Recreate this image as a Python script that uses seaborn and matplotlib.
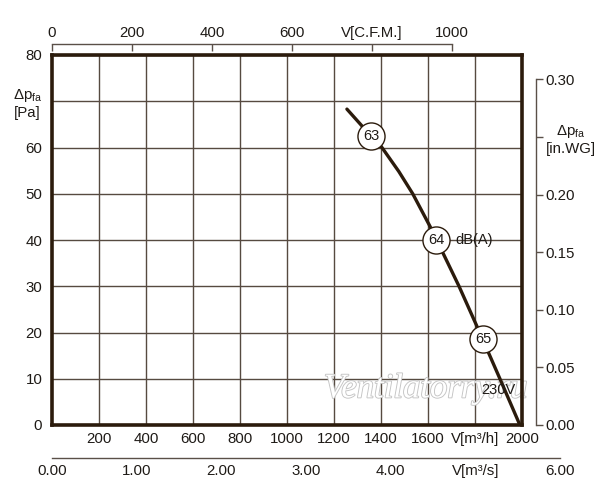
import matplotlib
matplotlib.use("Agg")
import matplotlib.pyplot as plt
import matplotlib.patheffects as pe
import seaborn as sns
import pandas as pd

# fan curve: air flow [m3/h] vs static pressure [Pa]
flow = [1255, 1357, 1404, 1476, 1535, 1609, 1637, 1732, 1820, 1906, 1991]
pressure = [68.3, 62.5, 60.0, 54.8, 50.0, 42.9, 40.0, 30.0, 20.0, 10.0, 0.0]

# noise level markers on the curve
noise_flow = [1357, 1635, 1835]
noise_pressure = [62.5, 40.0, 18.5]
noise_db = ["63", "64", "65"]

x_ticks = [200, 400, 600, 800, 1000, 1200, 1400, 1600, 1800, 2000]
x_labels = ["200", "400", "600", "800", "1000", "1200", "1400", "1600", "V[m³/h]", "2000"]
y_ticks = [0, 10, 20, 30, 40, 50, 60, 70, 80]
y_labels = ["0", "10", "20", "30", "40", "50", "60", "Δp$_{fa}$\n[Pa]", "80"]

cfm_ticks = [0, 200, 400, 600, 800, 1000]
cfm_labels = ["0", "200", "400", "600", "V[C.F.M.]", "1000"]
inwg_ticks = [0.0, 0.05, 0.10, 0.15, 0.20, 0.25, 0.30]
inwg_labels = ["0.00", "0.05", "0.10", "0.15", "0.20", "Δp$_{fa}$\n[in.WG]", "0.30"]
m3s_ticks = [0, 1, 2, 3, 4, 5, 6]
m3s_labels = ["0.00", "1.00", "2.00", "3.00", "4.00", "V[m³/s]", "6.00"]

PA_PER_INWG = 249.09

sns.set_style("white")
plt.rcParams["font.family"] = ["Liberation Sans", "DejaVu Sans"]
plt.rcParams["mathtext.fontset"] = "custom"
plt.rcParams["mathtext.rm"] = "Liberation Sans"
plt.rcParams["mathtext.default"] = "regular"

ink = "#1e1a16"
grid_col = "#564a40"
curve_col = "#2b1b0c"
axis_col = "#5a5048"
fs = 10.8

fig = plt.figure(figsize=(6, 5), dpi=100)
L, B, W, H = 52 / 600, 75 / 500, 470 / 600, 370 / 500
ax = fig.add_axes([L, B, W, H])

df = pd.DataFrame({"flow": flow, "pressure": pressure})
sns.lineplot(data=df, x="flow", y="pressure", sort=False, color=curve_col,
             linewidth=2.4, ax=ax, zorder=3)

marks = pd.DataFrame({"flow": noise_flow, "pressure": noise_pressure})
sns.scatterplot(data=marks, x="flow", y="pressure", s=380, color="white",
                edgecolor=curve_col, linewidth=1.0, ax=ax, zorder=4)
for fx, py, lab in zip(noise_flow, noise_pressure, noise_db):
    ax.text(fx, py, lab, ha="center", va="center", fontsize=10.5, color=ink, zorder=5)
ax.text(noise_flow[1] + 80, noise_pressure[1], "dB(A)", ha="left", va="center",
        fontsize=10.5, color=ink, zorder=5)
ax.text(1828, 7.5, "230V", ha="left", va="center", fontsize=10.5, color=ink, zorder=5)

ax.text(1590, 7.8, "Ventilatorry.ru", ha="center", va="center", fontsize=25,
        family="Liberation Serif", style="italic", color="white", zorder=2,
        path_effects=[pe.withStroke(linewidth=1.3, foreground="#c4c4c4")])

ax.set_xlim(0, 2000)
ax.set_ylim(0, 80)
ax.set_xticks(x_ticks)
ax.set_xticklabels(x_labels)
ax.set_yticks(y_ticks)
ax.set_yticklabels(y_labels)
ax.set_xlabel("")
ax.set_ylabel("")
ax.grid(True, color=grid_col, linewidth=1.0)
ax.tick_params(axis="both", length=0, labelsize=fs, colors=ink)
ax.tick_params(axis="x", pad=5)
ax.tick_params(axis="y", pad=7)
for s in ax.spines.values():
    s.set_color(curve_col)
    s.set_linewidth(2.6)
    s.set_zorder(6)
for lab in ax.get_yticklabels():
    lab.set_multialignment("center")

# top axis: C.F.M.
top = fig.add_axes([L, (500 - 44) / 500, 400 / 600, 0.0])
top.set_xlim(0, 1000)
top.set_yticks([])
for k, s in top.spines.items():
    s.set_visible(k == "top")
top.spines["top"].set_color(axis_col)
top.spines["top"].set_linewidth(1.0)
top.xaxis.tick_top()
top.set_xticks(cfm_ticks)
top.set_xticklabels(cfm_labels)
top.tick_params(axis="x", direction="in", length=5, width=1.0, color=axis_col,
                labelsize=fs, labelcolor=ink, pad=3)
top.patch.set_visible(False)

# right axis: in.WG
right = fig.add_axes([536 / 600, B, 0.0, H])
right.set_ylim(0, 80 / PA_PER_INWG)
right.set_xticks([])
for k, s in right.spines.items():
    s.set_visible(k == "right")
right.spines["right"].set_bounds(0, 0.30)
right.spines["right"].set_color(axis_col)
right.spines["right"].set_linewidth(1.0)
right.yaxis.tick_right()
right.set_yticks(inwg_ticks)
right.set_yticklabels(inwg_labels)
right.tick_params(axis="y", direction="out", length=5, width=1.0, color=axis_col,
                  labelsize=fs, labelcolor=ink, pad=2)
for lab in right.get_yticklabels():
    lab.set_multialignment("center")
right.patch.set_visible(False)

# lower axis: m3/s
low = fig.add_axes([L, (500 - 458) / 500, 508 / 600, 0.0])
low.set_xlim(0, 6)
low.set_yticks([])
for k, s in low.spines.items():
    s.set_visible(k == "bottom")
low.spines["bottom"].set_color(axis_col)
low.spines["bottom"].set_linewidth(1.0)
low.set_xticks(m3s_ticks)
low.set_xticklabels(m3s_labels)
low.tick_params(axis="x", direction="in", length=6, width=1.0, color=axis_col,
                labelsize=fs, labelcolor=ink, pad=4)
low.patch.set_visible(False)

fig.savefig("out.png", dpi=100)
